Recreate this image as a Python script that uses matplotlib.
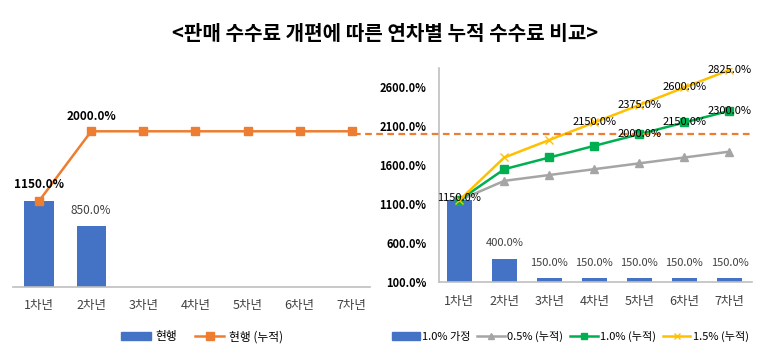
import matplotlib.pyplot as plt
from matplotlib.lines import Line2D
from matplotlib.patches import Patch

plt.rcParams['font.family'] = ['Noto Sans CJK KR', 'DejaVu Sans']

# data
years = ['1차년', '2차년', '3차년', '4차년', '5차년', '6차년', '7차년']
cur_bar = [1150, 850, 0, 0, 0, 0, 0]
cur_cum = [1150, 2000, 2000, 2000, 2000, 2000, 2000]

new_bar = [1150, 400, 150, 150, 150, 150, 150]
cum_05 = [1150, 1400, 1475, 1550, 1625, 1700, 1775]
cum_10 = [1150, 1550, 1700, 1850, 2000, 2150, 2300]
cum_15 = [1150, 1700, 1925, 2150, 2375, 2600, 2825]
yticks_r = [100, 600, 1100, 1600, 2100, 2600]

blue = '#4472C4'
orange = '#ED7D31'
gray = '#A5A5A5'
green = '#00B050'
yellow = '#FFC000'
txt = '#404040'

W, H = 770, 361
fig = plt.figure(figsize=(W / 100, H / 100), dpi=100)

def px_axes(x0, x1, ytop, ybot):
    return fig.add_axes([x0 / W, 1 - ybot / H, (x1 - x0) / W, (ybot - ytop) / H])

fig.text(0.5, 1 - 33 / H, '<판매 수수료 개편에 따른 연차별 누적 수수료 비교>',
         ha='center', va='center', fontsize=14.5, fontweight='bold')

x = list(range(len(years)))

# ---- left chart
ax1 = px_axes(13, 370, 60, 287)
ax1.bar(x, cur_bar, width=0.56, color=blue, zorder=2)
ax1.plot(x, cur_cum, color=orange, lw=1.8, marker='s', ms=6, zorder=3)
ax1.set_xlim(-0.5, 6.35)
ax1.set_ylim(100, 2870)
ax1.set_xticks(x, years, fontsize=9, color=txt)
ax1.set_yticks([])
ax1.tick_params(axis='x', length=0, pad=9)
for s in ['top', 'right', 'left']:
    ax1.spines[s].set_visible(False)
ax1.spines['bottom'].set_color('#BFBFBF')
ax1.spines['bottom'].set_linewidth(1.2)
ax1.annotate('1150.0%', (0, cur_cum[0]), xytext=(0, 12), textcoords='offset points',
             ha='center', va='center', fontsize=8.5, fontweight='bold', zorder=5)
ax1.annotate('2000.0%', (1, cur_cum[1]), xytext=(0, 11), textcoords='offset points',
             ha='center', va='center', fontsize=8.5, fontweight='bold', zorder=5)
ax1.annotate('850.0%', (1, cur_bar[1]), xytext=(0, 11), textcoords='offset points',
             ha='center', va='center', fontsize=8.5, color=txt)
ax1.legend(handles=[Patch(color=blue, label='현행'),
                    Line2D([], [], color=orange, lw=1.8, marker='s', ms=6, label='현행 (누적)')],
           loc='center', bbox_to_anchor=(0.53, -0.22), ncol=2, frameon=False,
           fontsize=8.5, handlelength=2.5, columnspacing=1.5, handletextpad=0.4)

# ---- right chart
ax2 = px_axes(439, 752, 68, 282)
ax2.bar(x, new_bar, width=0.56, color=blue, zorder=2)
ax2.plot(x, cum_05, color=gray, lw=1.8, marker='^', ms=6, zorder=3)
ax2.plot(x, cum_10, color=green, lw=1.8, marker='s', ms=6, zorder=3)
ax2.plot(x, cum_15, color=yellow, lw=1.8, marker='x', ms=6, zorder=3)
ax2.axhline(2000, xmin=-0.27, xmax=1.0, color=orange, lw=1.6, ls=(0, (3, 2)),
            clip_on=False, zorder=4)
ax2.set_xlim(-0.45, 6.5)
ax2.set_ylim(100, 2850)
ax2.set_yticks(yticks_r, [f'{v:.1f}%' for v in yticks_r], fontsize=8, fontweight='bold')
ax2.set_xticks(x, years, fontsize=9, color=txt)
ax2.tick_params(axis='y', length=0, pad=9)
ax2.tick_params(axis='x', length=0, pad=9)
for s in ['top', 'right']:
    ax2.spines[s].set_visible(False)
for s in ['left', 'bottom']:
    ax2.spines[s].set_color('#BFBFBF')
    ax2.spines[s].set_linewidth(1.2)

ax2.text(0, 1180, '1150.0%', ha='center', va='center', fontsize=8, zorder=6)
for i in range(1, 7):
    ax2.annotate(f'{new_bar[i]:.1f}%', (i, new_bar[i]), xytext=(0, 11),
                 textcoords='offset points', ha='center', va='center', fontsize=8, color=txt)
for i in range(3, 7):
    ax2.text(i, cum_15[i], f'{cum_15[i]:.1f}%', ha='center', va='center', fontsize=8, zorder=6)
for i in range(4, 7):
    ax2.text(i, cum_10[i], f'{cum_10[i]:.1f}%', ha='center', va='center', fontsize=8, zorder=6)

ax2.legend(handles=[Patch(color=blue, label='1.0% 가정'),
                    Line2D([], [], color=gray, lw=1.8, marker='^', ms=5, label='0.5% (누적)'),
                    Line2D([], [], color=green, lw=1.8, marker='s', ms=5, label='1.0% (누적)'),
                    Line2D([], [], color=yellow, lw=1.8, marker='x', ms=5, label='1.5% (누적)')],
           loc='center', bbox_to_anchor=(0.42, -0.255), ncol=4, frameon=False,
           fontsize=8, handlelength=2.5, columnspacing=0.6, handletextpad=0.2)

fig.savefig('out.png', dpi=100)
